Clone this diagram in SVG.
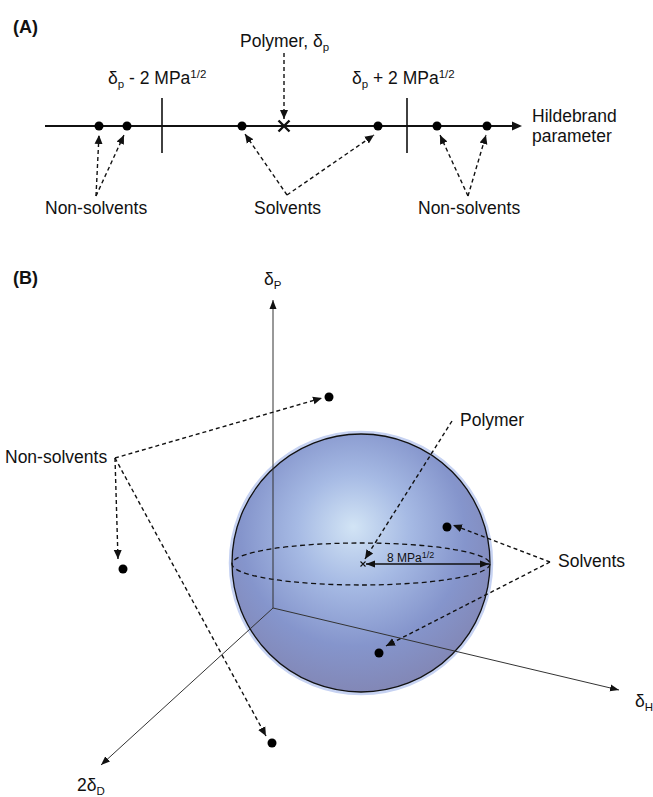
<svg xmlns="http://www.w3.org/2000/svg" width="653" height="797" viewBox="0 0 653 797">
<style>
text{font-family:"Liberation Sans",Arial,sans-serif;fill:#111;font-size:17.5px}
.title{font-weight:bold;font-size:18px}
.sub{font-size:11.5px}
.dash{fill:none;stroke:#111;stroke-width:1.4;stroke-dasharray:4,3;marker-end:url(#ah)}
.ax{fill:none;stroke:#333;stroke-width:1;marker-end:url(#ahs)}
.dot{fill:#000}
</style>
<defs>
<marker id="ah" markerUnits="userSpaceOnUse" markerWidth="10" markerHeight="10" viewBox="0 0 10 10" refX="9" refY="5" orient="auto"><path d="M0,1 L9,5 L0,9 Z" fill="#111"/></marker>
<marker id="ahs" markerUnits="userSpaceOnUse" markerWidth="10" markerHeight="10" viewBox="0 0 10 10" refX="9" refY="5" orient="auto"><path d="M0,1.5 L9,5 L0,8.5 Z" fill="#111"/></marker>
<marker id="ahr" markerUnits="userSpaceOnUse" markerWidth="10" markerHeight="10" viewBox="0 0 10 10" refX="9" refY="5" orient="auto-start-reverse"><path d="M0,1.5 L9,5 L0,8.5 Z" fill="#111"/></marker>
<radialGradient id="sg" cx="0.47" cy="0.4" r="0.62" fx="0.47" fy="0.36">
<stop offset="0" stop-color="#d2e4f5"/>
<stop offset="0.35" stop-color="#a6bae4"/>
<stop offset="0.7" stop-color="#8595cc"/>
<stop offset="1" stop-color="#8286b4"/>
</radialGradient>
</defs>

<!-- Panel A -->
<g id="panelA">
<text class="title" x="13" y="33">(A)</text>
<g id="axisA">
<line x1="45" y1="126" x2="514" y2="126" stroke="#111" stroke-width="2"/>
<path d="M522,126 L512,121.5 L512,130.5 Z" fill="#111"/>
</g>
<g id="tickMinus"><line x1="162" y1="98" x2="162" y2="153" stroke="#111" stroke-width="1.6"/>
<text x="108" y="84">δ<tspan class="sub" dy="4">p</tspan><tspan dy="-4"> - 2 MPa</tspan><tspan class="sub" dy="-6">1/2</tspan></text></g>
<g id="tickPlus"><line x1="407" y1="98" x2="407" y2="153" stroke="#111" stroke-width="1.6"/>
<text x="352" y="84">δ<tspan class="sub" dy="4">p</tspan><tspan dy="-4"> + 2 MPa</tspan><tspan class="sub" dy="-6">1/2</tspan></text></g>
<g id="polymerA">
<path d="M278.5,120.5 L289.5,131.5 M289.5,120.5 L278.5,131.5" stroke="#111" stroke-width="2.4"/>
<text x="240" y="47">Polymer, δ<tspan class="sub" dy="4">p</tspan></text>
</g>
<g id="dotsA">
<circle class="dot" cx="99" cy="126" r="4.5"/>
<circle class="dot" cx="127" cy="126" r="4.5"/>
<circle class="dot" cx="242" cy="126" r="4.5"/>
<circle class="dot" cx="378" cy="126" r="4.5"/>
<circle class="dot" cx="437" cy="126" r="4.5"/>
<circle class="dot" cx="487" cy="126" r="4.5"/>
</g>
<text id="hildebrand" x="532" y="122">Hildebrand<tspan x="532" y="142">parameter</tspan></text>
<text id="nonsolvA1" x="45" y="214">Non-solvents</text>
<text id="solvA" x="254" y="214">Solvents</text>
<text id="nonsolvA2" x="418" y="214">Non-solvents</text>
</g>

<!-- Panel B -->
<g id="panelB">
<text class="title" x="13" y="284">(B)</text>
<g id="sphere">
<circle cx="361" cy="563" r="130.5" fill="none" stroke="#c6d2f2" stroke-width="3.5"/>
<circle cx="361" cy="563" r="129" fill="url(#sg)" stroke="#111" stroke-width="1.3"/>
<ellipse cx="361" cy="564" rx="129" ry="21" fill="none" stroke="#111" stroke-width="1.3" stroke-dasharray="5,3.5"/>
</g>
<g id="axesB">
<line class="ax" x1="273" y1="608" x2="273" y2="300"/>
<line class="ax" x1="273" y1="608" x2="619" y2="690"/>
<line class="ax" x1="273" y1="608" x2="101" y2="765"/>
<text x="264" y="285">δ<tspan class="sub" dy="4">P</tspan></text>
<text x="635" y="707">δ<tspan class="sub" dy="4">H</tspan></text>
<text x="77" y="791">2δ<tspan class="sub" dy="4">D</tspan></text>
</g>
<g id="polymerB">
<path d="M360.5,561.5 L365.5,566.5 M365.5,561.5 L360.5,566.5" stroke="#111" stroke-width="1.1"/>
<line x1="366" y1="564" x2="489" y2="564" stroke="#111" stroke-width="1.5" marker-start="url(#ahr)" marker-end="url(#ahr)"/>
<text x="387" y="562" style="font-size:12px">8 MPa<tspan style="font-size:9px" dy="-4">1/2</tspan></text>
<text x="460" y="426">Polymer</text>
</g>
<g id="dotsB">
<circle class="dot" cx="329" cy="397" r="4.5"/>
<circle class="dot" cx="123" cy="569" r="4.5"/>
<circle class="dot" cx="272" cy="743" r="4.5"/>
<circle class="dot" cx="447" cy="527" r="4.5"/>
<circle class="dot" cx="379" cy="653" r="4.5"/>
</g>
<text id="nonsolvB" x="5" y="463">Non-solvents</text>
<text id="solvB" x="558" y="567">Solvents</text>
</g>

<g id="connectors">
<line class="dash" x1="284" y1="53" x2="284" y2="119"/>
<line class="dash" x1="96" y1="196" x2="99" y2="135"/>
<line class="dash" x1="96" y1="196" x2="124" y2="135"/>
<line class="dash" x1="287" y1="195" x2="245" y2="134"/>
<line class="dash" x1="287" y1="195" x2="374" y2="135"/>
<line class="dash" x1="468" y1="196" x2="440" y2="135"/>
<line class="dash" x1="468" y1="196" x2="486" y2="135"/>
<line class="dash" x1="115" y1="458" x2="322" y2="398"/>
<line class="dash" x1="115" y1="458" x2="118" y2="559"/>
<line class="dash" x1="115" y1="458" x2="266" y2="736"/>
<line class="dash" x1="452" y1="421" x2="365" y2="559"/>
<line class="dash" x1="550" y1="562" x2="453" y2="525"/>
<line class="dash" x1="550" y1="562" x2="386" y2="646"/>
</g>
</svg>
